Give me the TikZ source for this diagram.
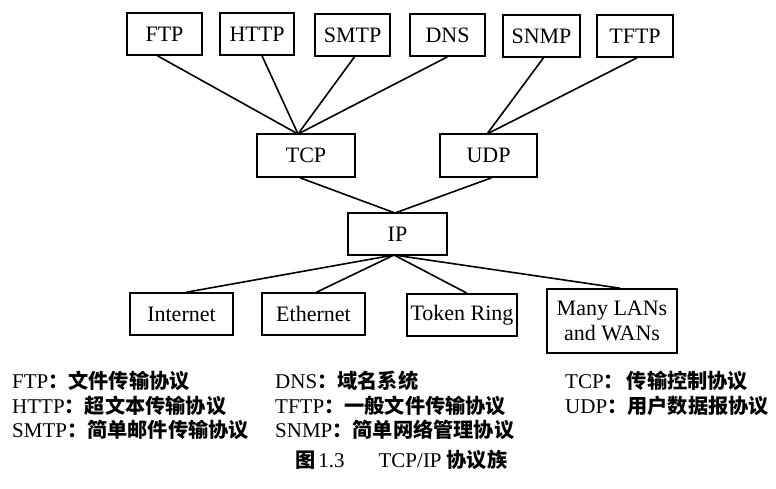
\documentclass[tikz,border=0pt]{standalone}
\usepackage{fontspec}
\setmainfont{Liberation Serif}
\newfontfamily\cjk{Noto Sans CJK SC}
\tikzset{
  box/.style={draw, line width=1.6pt, inner sep=0pt, align=center,
              minimum height=42pt, font=\fontsize{22}{23}\selectfont},
  link/.style={line width=1.6pt},
  legend/.style={anchor=base west, inner sep=0pt, font=\fontsize{21}{23}\selectfont},
}
\newcommand{\zh}[1]{{\cjk\bfseries\fontsize{20.2}{23}\selectfont #1}}
\begin{document}
\begin{tikzpicture}[x=1pt,y=-1pt]
\useasboundingbox (0,0) rectangle (776,489);

% application layer
\node[box, minimum width=75pt] (ftp)  at (164.5,34) {FTP};
\node[box, minimum width=74pt] (http) at (257,34) {HTTP};
\node[box, minimum width=75pt] (smtp) at (352.5,35) {SMTP};
\node[box, minimum width=75pt] (dns)  at (447.5,35) {DNS};
\node[box, minimum width=77pt] (snmp) at (541.5,36) {SNMP};
\node[box, minimum width=76pt] (tftp) at (635,36) {TFTP};

% transport layer
\node[box, minimum width=98pt, minimum height=43pt] (tcp) at (306,155.5) {TCP};
\node[box, minimum width=97pt, minimum height=43pt] (udp) at (488.5,155.5) {UDP};

% network layer
\node[box, minimum width=99pt] (ip) at (397.5,234) {IP};

% link layer
\node[box, minimum width=103pt] (inet) at (181.5,314) {Internet};
\node[box, minimum width=103pt] (eth)  at (313.5,314) {Ethernet};
\node[box, minimum width=110pt] (tok)  at (462,315) {Token Ring};
\node[box, minimum width=130pt, minimum height=64pt,
      font=\fontsize{22}{25}\selectfont] (lan) at (612,321) {Many LANs\\and WANs};

% junction points on box edges
\coordinate (tcpin) at (298,134);
\coordinate (udpin) at (487,134);
\coordinate (ipin)  at (395,213);
\coordinate (ipout) at (394,255);

\draw[link] ([xshift=-7pt]ftp.south) -- (tcpin);
\draw[link] ([xshift=5pt]http.south) -- (tcpin);
\draw[link] ([xshift=2pt]smtp.south) -- (tcpin);
\draw[link] (dns.south) -- (tcpin);
\draw[link] ([xshift=2pt]snmp.south) -- (udpin);
\draw[link] ([xshift=2pt]tftp.south) -- (udpin);

\draw[link] ([xshift=-6pt]tcp.south) -- (ipin);
\draw[link] ([xshift=3pt]udp.south) -- (ipin);

\draw[link] (ipout) -- ([xshift=5pt]inet.north);
\draw[link] (ipout) -- ([xshift=3pt]eth.north);
\draw[link] (ipout) -- ([xshift=5pt]tok.north);
\draw[link] (ipout) -- ([xshift=8pt]lan.north);

% abbreviations
\node[legend] (l1) at (12,388) {FTP\zh{：文件传输协议}};
\node[legend] (l2) at (12,413) {HTTP\zh{：超文本传输协议}};
\node[legend] (l3) at (12,437) {SMTP\zh{：简单邮件传输协议}};
\node[legend] (l4) at (275,388) {DNS\zh{：域名系统}};
\node[legend] (l5) at (275,413) {TFTP\zh{：一般文件传输协议}};
\node[legend] (l6) at (275,437) {SNMP\zh{：简单网络管理协议}};
\node[legend] (l7) at (565,388) {TCP\zh{：\hspace{3pt}传输控制协议}};
\node[legend] (l8) at (565,413) {UDP\zh{：用户数据报协议}};

% caption
\node[legend] (cap) at (295,467) {\zh{图}\hspace{3pt}1.3\hspace{34pt}TCP/IP\hspace{5pt}\zh{协议族}};
\end{tikzpicture}
\end{document}
